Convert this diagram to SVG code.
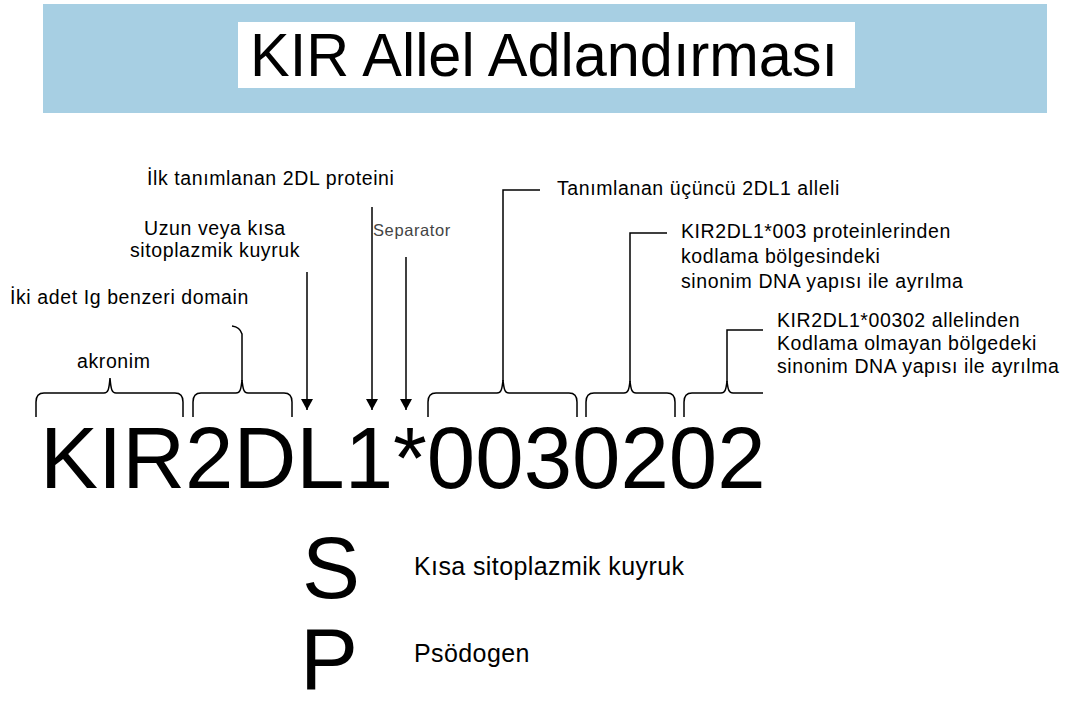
<svg xmlns="http://www.w3.org/2000/svg" width="1075" height="707" viewBox="0 0 1075 707">
  <style>
    .lbl { font-family: "Liberation Sans", Arial, sans-serif; font-size: 19.5px; letter-spacing: 0.6px; fill: #000; }
    .sep { font-family: "Liberation Sans", Arial, sans-serif; font-size: 16.5px; letter-spacing: 0.6px; fill: #444; }
    .big { font-family: "Liberation Sans", Arial, sans-serif; font-size: 87px; fill: #000; }
    .key { font-family: "Liberation Sans", Arial, sans-serif; font-size: 25px; letter-spacing: 0.4px; fill: #000; }
    .ln { fill: none; stroke: #000; stroke-width: 1.5; }
  </style>
  <defs>
    <marker id="head" viewBox="0 0 11 12" refX="11" refY="6" markerWidth="11" markerHeight="12" markerUnits="userSpaceOnUse" orient="auto">
      <path d="M0,0 L11,6 L0,12 Z" fill="#000"/>
    </marker>
  </defs>

  <rect width="1075" height="707" fill="#fff"/>

  <!-- title banner -->
  <g id="title">
    <rect x="43" y="4" width="1004" height="109" fill="#a7cfe3"/>
    <rect x="238" y="22" width="617" height="66" fill="#fff"/>
    <text x="250" y="76" font-family="Liberation Sans, Arial, sans-serif" font-size="62" textLength="588" lengthAdjust="spacingAndGlyphs">KIR Allel Adlandırması</text>
  </g>

  <!-- allele name -->
  <g id="allele">
    <text class="big" x="40" y="488">KIR2DL1*0030202</text>
  </g>

  <!-- labels -->
  <g id="label-acronym">
    <text class="lbl" x="77" y="368">akronim</text>
  </g>
  <g id="label-ig">
    <text class="lbl" x="10" y="304">İki adet Ig benzeri domain</text>
  </g>
  <g id="label-tail">
    <text class="lbl" x="144" y="235">Uzun veya kısa</text>
    <text class="lbl" x="130" y="257">sitoplazmik kuyruk</text>
  </g>
  <g id="label-first">
    <text class="lbl" x="147" y="185">İlk tanımlanan 2DL proteini</text>
  </g>
  <g id="label-separator">
    <text class="sep" x="373" y="236">Separator</text>
  </g>
  <g id="label-third">
    <text class="lbl" x="557" y="195">Tanımlanan üçüncü 2DL1 alleli</text>
  </g>
  <g id="label-coding">
    <text class="lbl" x="681" y="238">KIR2DL1*003 proteinlerinden</text>
    <text class="lbl" x="681" y="263">kodlama bölgesindeki</text>
    <text class="lbl" x="681" y="288">sinonim DNA yapısı ile ayrılma</text>
  </g>
  <g id="label-noncoding">
    <text class="lbl" x="777" y="327">KIR2DL1*00302 allelinden</text>
    <text class="lbl" x="777" y="350">Kodlama olmayan bölgedeki</text>
    <text class="lbl" x="777" y="373">sinonim DNA yapısı ile ayrılma</text>
  </g>

  <!-- suffix key -->
  <g id="key-s">
    <text class="big" x="302" y="598">S</text>
    <text class="key" x="414" y="575">Kısa sitoplazmik kuyruk</text>
  </g>
  <g id="key-p">
    <text class="big" x="300" y="689">P</text>
    <text class="key" x="414" y="662">Psödogen</text>
  </g>

  <!-- braces, leaders and arrows -->
  <g id="connectors" class="ln">
    <!-- braces over the name segments -->
    <path d="M36,417 V402 C36,396 38,393 44,393 H104 C108,393 109,390 110,378 C111,390 112,393 116,393 H175 C181,393 183,396 183,402 V417"/>
    <path d="M193,417 V402 C193,396 195,393 201,393 H236 C240,393 241,390 242,380 C243,390 244,393 248,393 H284 C290,393 292,396 292,402 V417"/>
    <path d="M428,417 V402 C428,396 430,393 436,393 H497 C501,393 502,390 503,380 C504,390 505,393 509,393 H569 C575,393 577,396 577,402 V417"/>
    <path d="M586,417 V402 C586,396 588,393 594,393 H624 C628,393 629,390 630,381 C631,390 632,393 636,393 H667 C673,393 675,396 675,402 V417"/>
    <path d="M684,417 V402 C684,396 686,393 692,393 H721 C725,393 726,390 727,381 C728,390 729,393 733,393 H763"/>
    <!-- leaders to the brace tips -->
    <path d="M232,326 Q240,327 242,334 V381"/>
    <path d="M540,190 H503 V381"/>
    <path d="M667,233 H630 V382"/>
    <path d="M763,330 H727 V382"/>
    <!-- arrows to single characters -->
    <line x1="307" y1="272" x2="307" y2="410" marker-end="url(#head)"/>
    <line x1="372" y1="207" x2="372" y2="410" marker-end="url(#head)"/>
    <line x1="406" y1="257" x2="406" y2="410" marker-end="url(#head)"/>
  </g>
</svg>
